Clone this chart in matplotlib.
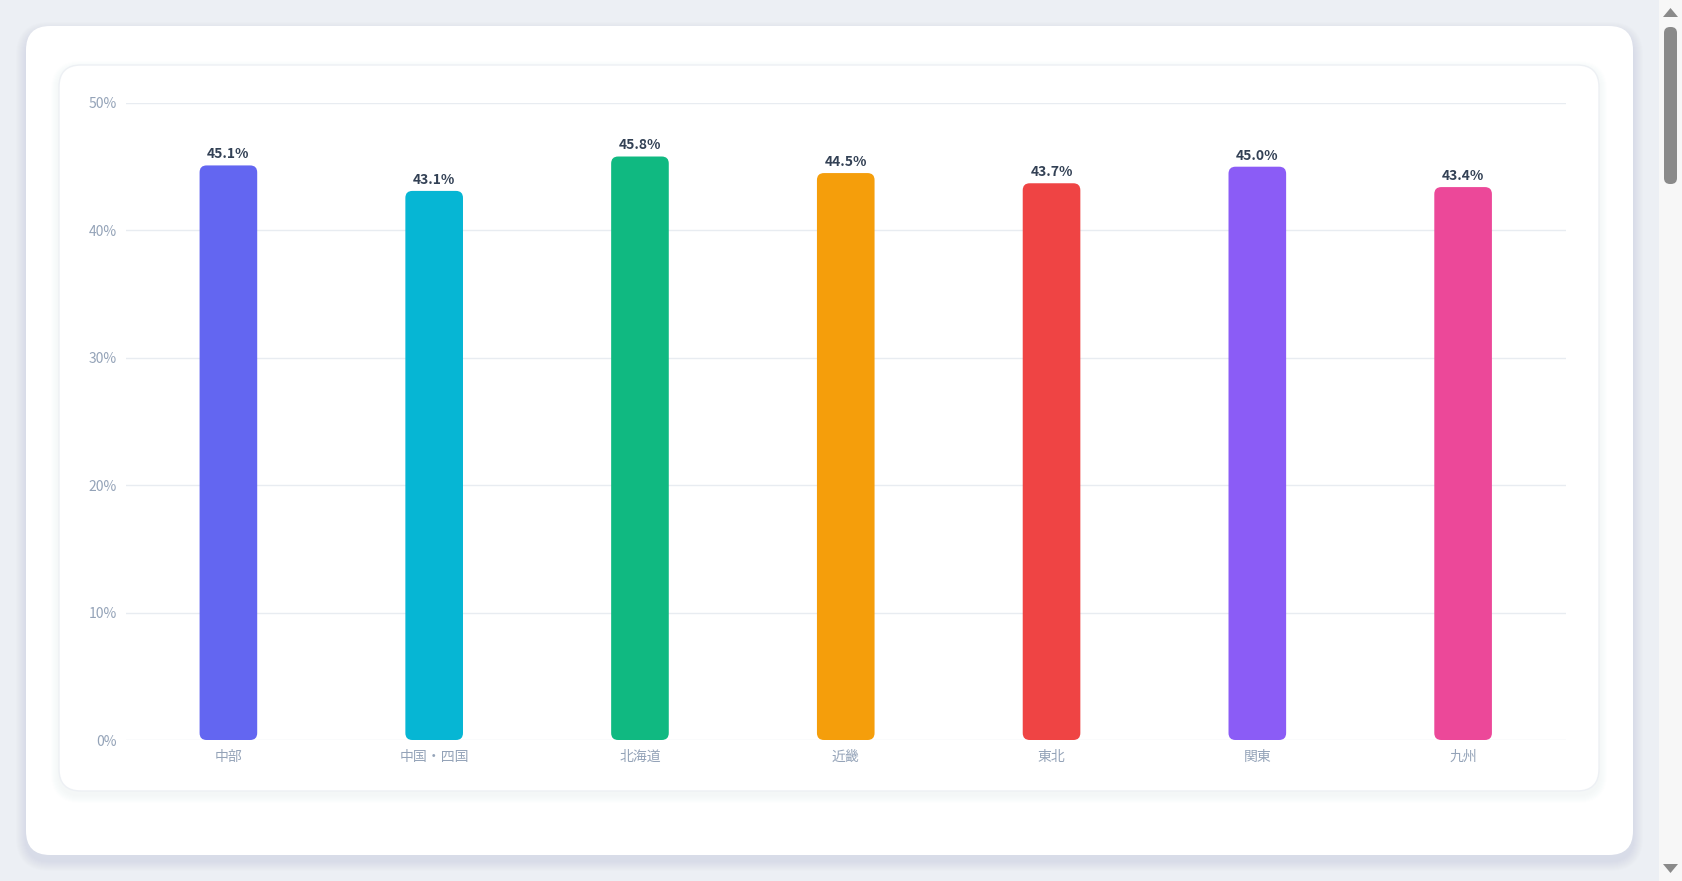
import matplotlib
matplotlib.use("Agg")
import matplotlib.pyplot as plt
from matplotlib.patches import FancyBboxPatch, Rectangle, Polygon

plt.rcParams['font.family'] = ['Noto Sans CJK JP', 'DejaVu Sans']

# data
regions = ["中部", "中国・四国", "北海道", "近畿", "東北", "関東", "九州"]
values = [45.1, 43.1, 45.8, 44.5, 43.7, 45.0, 43.4]
colors = ["#6366f1", "#06b6d4", "#10b981", "#f59e0b", "#ef4444", "#8b5cf6", "#ec4899"]
yticks = [0, 10, 20, 30, 40, 50]

W, H = 1682, 881
fig = plt.figure(figsize=(W / 100, H / 100), dpi=100)
fig.patch.set_facecolor("#eceff4")


def px_box(x0, y0, x1, y1, r, fc, ec="none", lw=0, alpha=1.0, z=0):
    # rounded box in pixel coords (top-left origin)
    p = FancyBboxPatch((x0 / W, 1 - y1 / H), (x1 - x0) / W, (y1 - y0) / H,
                       boxstyle="round,pad=0,rounding_size=%f" % (r / W),
                       mutation_aspect=W / H, transform=fig.transFigure,
                       fc=fc, ec=ec, lw=lw, alpha=alpha, zorder=z)
    fig.add_artist(p)


# outer card shadow + card
for i in range(10, 0, -1):
    px_box(26 - i, 26 - i + 6, 1633 + i, 855 + i + 6, 24 + i, "#b8c2d4", alpha=0.035, z=0)
px_box(26, 26, 1633, 855, 24, "white", z=1)

# inner card shadow + card
for i in range(8, 0, -1):
    px_box(59 - i, 65 - i + 4, 1599 + i, 791 + i + 4, 22 + i, "#d0d6e0", alpha=0.025, z=2)
px_box(59, 65, 1599, 791, 22, "white", ec="#edf0f4", lw=1, z=3)

# scrollbar
fig.add_artist(Rectangle((1659 / W, 0), 23 / W, 1, transform=fig.transFigure,
                         fc="#f7f7f7", ec="none", zorder=4))
px_box(1664, 27, 1677, 184, 6, "#8a8a8a", z=5)
fig.add_artist(Polygon([(1663 / W, 1 - 17 / H), (1678 / W, 1 - 17 / H), (1670.5 / W, 1 - 8 / H)],
                       transform=fig.transFigure, fc="#8a8a8a", ec="none", zorder=5))
fig.add_artist(Polygon([(1663 / W, 1 - 864 / H), (1678 / W, 1 - 864 / H), (1670.5 / W, 1 - 873 / H)],
                       transform=fig.transFigure, fc="#8a8a8a", ec="none", zorder=5))

ax = fig.add_axes([125.5 / W, 1 - 740 / H, 1440.5 / W, 637 / H], zorder=6)
ax.set_facecolor("none")
x = list(range(len(regions)))
ax.set_xlim(-0.5, len(regions) - 0.5)
ax.set_ylim(0, 50)

bar_w = 0.28
# rounded bars, radius in pixels converted to data units
x_per_px = len(regions) / 1440.5
y_per_px = 50 / 637
r_px = 7
for xi, v, c in zip(x, values, colors):
    p = FancyBboxPatch((xi - bar_w / 2, 0), bar_w, v,
                       boxstyle="round,pad=0,rounding_size=%f" % (r_px * x_per_px),
                       mutation_aspect=y_per_px / x_per_px,
                       fc=c, ec="none", zorder=3)
    ax.add_patch(p)
    ax.annotate("%.1f%%" % v, (xi, v), xytext=(0, 3), textcoords="offset points",
                ha="center", va="bottom", fontsize=10, fontweight="bold", color="#334155")

ax.set_yticks(yticks)
ax.set_yticklabels(["%d%%" % t for t in yticks])
ax.set_xticks(x)
ax.set_xticklabels(regions)
ax.tick_params(axis="both", length=0, labelsize=10, colors="#94a3b8")
ax.tick_params(axis="y", pad=6)
ax.tick_params(axis="x", pad=7)
ax.grid(axis="y", color="#e8ecf1", linewidth=1)
ax.set_axisbelow(True)
for s in ax.spines.values():
    s.set_visible(False)

fig.savefig("out.png", dpi=100)
